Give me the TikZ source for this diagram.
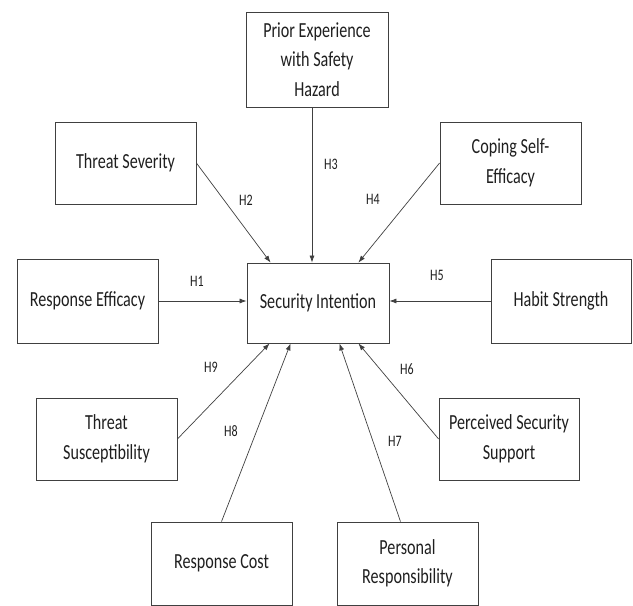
\documentclass[tikz,border=0pt]{standalone}
\usepackage{fontspec}
\setmainfont{Carlito}[FakeStretch=0.75]
\usetikzlibrary{arrows.meta,calc}
\definecolor{linec}{HTML}{404040}
\definecolor{textc}{HTML}{1F1F1F}
\begin{document}
\begin{tikzpicture}[x=1pt,y=-1pt,
  box/.style={draw=linec, line width=0.8pt, rectangle, inner sep=0pt, align=center, text=textc, font=\fontsize{21.5}{29.5}\selectfont, minimum width=141pt, minimum height=82pt},
  hlab/.style={text=textc, font=\fontsize{16}{18}\selectfont, inner sep=0pt},
  conn/.style={draw=linec, line width=0.7pt, -{Latex[length=7pt,width=5pt]}}]
\useasboundingbox (0,0) rectangle (633,606);
% boxes
\node[box, minimum width=142pt, minimum height=95pt] (prior) at (317,59.5) {Prior Experience\\with Safety\\Hazard};
\node[box] (tsev) at (125.5,163) {Threat Severity};
\node[box] (coping) at (510.5,163) {Coping Self-\\Efficacy};
\node[box, minimum height=84pt] (re) at (87.5,301) {Response Efficacy};
\node[box, minimum width=142pt, minimum height=80pt] (si) at (318,303) {Security Intention};
\node[box, minimum width=140pt, minimum height=84pt] (habit) at (561,301) {Habit Strength};
\node[box] (tsus) at (106.5,439) {Threat\\Susceptibility};
\node[box, minimum width=140pt] (pss) at (509,439) {Perceived Security\\Support};
\node[box, minimum height=83pt] (rc) at (221.5,563.5) {Response Cost};
\node[box, minimum height=83pt] (pr) at (407.5,563.5) {Personal\\Responsibility};
% connectors
\draw[conn] (tsev.east) -- ($(si.north west)+(24,0)$);
\draw[conn] ($(prior.south)+(-5,0)$) -- ($(si.north)+(-6,0)$);
\draw[conn] (coping.west) -- ($(si.north east)+(-31,0)$);
\draw[conn] (re.east) -- (si.west |- re.east);
\draw[conn] (habit.west) -- (si.east |- habit.west);
\draw[conn] (tsus.east) -- ($(si.south west)+(23,0)$);
\draw[conn] (rc.north) -- ($(si.south west)+(44,0)$);
\draw[conn] ($(pr.north)+(-7,0)$) -- ($(si.south east)+(-50,0)$);
\draw[conn] (pss.west) -- ($(si.south east)+(-31,0)$);
% labels
\node[hlab] (h1) at (197,281) {H1};
\node[hlab] (h2) at (246,200) {H2};
\node[hlab] (h3) at (331,164) {H3};
\node[hlab] (h4) at (373,199) {H4};
\node[hlab] (h5) at (437,275) {H5};
\node[hlab] (h6) at (407,369) {H6};
\node[hlab] (h7) at (395,441) {H7};
\node[hlab] (h8) at (231,431) {H8};
\node[hlab] (h9) at (211,367) {H9};
\end{tikzpicture}
\end{document}
